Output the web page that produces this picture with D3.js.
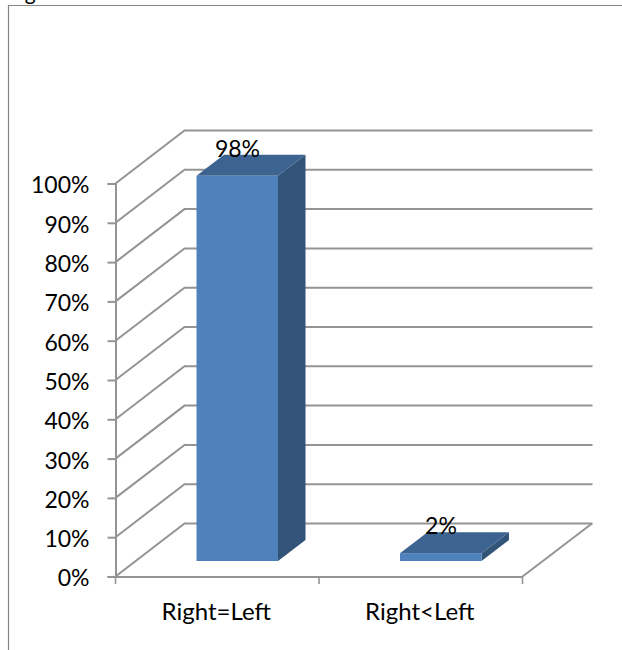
<!DOCTYPE html>
<html>

<head>
  <title>Right vs Left</title>
  <script type="text/javascript" src="https://cdn.jsdelivr.net/npm/d3@7"></script>
  <style>
    html, body { margin: 0; padding: 0; background: #fff; }
    svg { display: block; }
    text { font-family: Lato, "Open Sans", sans-serif; fill: #000; }
  </style>
</head>

<body>
  <script type="text/javascript">
    const categories = ["Right=Left", "Right<Left"];
    const percentages = [98, 2];
    const valueLabels = ["98%", "2%"];
    const tickValues = [0, 10, 20, 30, 40, 50, 60, 70, 80, 90, 100];
    const captionText = "Fig 1: Gender wise data";

    const w = 622;
    const h = 650;
    const fontSize = "23px";

    const svg = d3.select("body")
      .append("svg")
      .attr("width", w)
      .attr("height", h);

    // Skew of the 3D box: back wall offset from the front plane
    const depthX = 69;
    const depthY = -53;
    const barDepthX = 27.5;
    const barDepthY = -21;
    const floorX = 20;
    const floorY = -15.5;

    const yScale = d3.scaleLinear().domain([0, 100]).range([576.5, 183.5]);
    const xScale = d3.scaleBand().domain(categories).range([115.5, 522.5]);
    const barW = 81.5;
    const gridColor = "#949494";

    // Caption, cut off by the top of the page
    svg.append("text")
      .attr("x", 8)
      .attr("y", 0)
      .style("font-size", "21px")
      .style("word-spacing", "4px")
      .text(captionText);

    // Outer frame, open to the right and the bottom
    svg.append("path")
      .attr("d", "M8.5,650V5.5H622")
      .attr("fill", "none")
      .attr("stroke", "#858585")
      .attr("stroke-width", 1.2);

    const grid = svg.append("g")
      .attr("fill", "none")
      .attr("stroke", gridColor)
      .attr("stroke-width", 2);

    // Side wall and back wall lines
    grid.selectAll("path.wall")
      .data(tickValues)
      .enter()
      .append("path")
      .attr("class", "wall")
      .attr("d", function (d) {
        const y = yScale(d);
        return "M115.5," + y + "L" + (115.5 + depthX) + "," + (y + depthY) + "H" + 592.5;
      });

    // Floor edge on the right
    grid.append("path")
      .attr("d", "M522.5,576.5L" + (522.5 + depthX + 0.5) + "," + (576.5 + depthY));

    // Axes with outward ticks
    const xAxis = d3.axisBottom(xScale).tickSize(0).tickPadding(26);
    const xAxisG = svg.append("g")
      .attr("transform", "translate(0,576.5)")
      .call(xAxis);
    xAxisG.select(".domain").attr("stroke", gridColor).attr("stroke-width", 2);
    xAxisG.selectAll("text")
      .style("font-size", "24px")
      .attr("dx", "-1")
      .attr("fill", "#000");

    svg.append("g")
      .attr("stroke", gridColor)
      .attr("stroke-width", 1.6)
      .selectAll("line")
      .data([115.5, 319, 522.5])
      .enter()
      .append("line")
      .attr("x1", function (d) { return d; })
      .attr("x2", function (d) { return d; })
      .attr("y1", 576.5)
      .attr("y2", 584);

    const yAxis = d3.axisLeft(yScale)
      .tickValues(tickValues)
      .tickSize(8)
      .tickPadding(18)
      .tickFormat(function (d) { return d + "%"; });
    const yAxisG = svg.append("g")
      .attr("transform", "translate(115.5,0)")
      .call(yAxis);
    yAxisG.select(".domain").attr("stroke", gridColor).attr("stroke-width", 2);
    yAxisG.selectAll(".tick line").attr("stroke", gridColor).attr("stroke-width", 2);
    yAxisG.selectAll("text")
      .style("font-size", fontSize)
      .attr("dy", "0.41em")
      .attr("fill", "#000");

    // Bars: side, top, then front face
    const bars = svg.selectAll("g.bar")
      .data(percentages)
      .enter()
      .append("g")
      .attr("class", "bar");

    function barLeft(i) {
      return xScale(categories[i]) + (xScale.bandwidth() - barW) / 2 + floorX;
    }
    const zeroY = yScale(0) + floorY;
    function barTop(d) {
      return zeroY - (yScale(0) - yScale(d));
    }

    bars.append("path")
      .attr("fill", "#335479")
      .attr("d", function (d, i) {
        const x = barLeft(i) + barW;
        return "M" + x + "," + zeroY + "l" + barDepthX + "," + barDepthY +
          "V" + (barTop(d) + barDepthY) + "l" + (-barDepthX) + "," + (-barDepthY) + "Z";
      });

    bars.append("path")
      .attr("fill", "#3d6390")
      .attr("d", function (d, i) {
        const x = barLeft(i);
        const y = barTop(d);
        return "M" + x + "," + y + "l" + barDepthX + "," + barDepthY +
          "h" + barW + "l" + (-barDepthX) + "," + (-barDepthY) + "Z";
      });

    bars.append("rect")
      .attr("fill", "#4f81bd")
      .attr("x", function (d, i) { return barLeft(i); })
      .attr("y", barTop)
      .attr("width", barW)
      .attr("height", function (d) { return zeroY - barTop(d); });

    // Value labels sit over the top face
    bars.append("text")
      .attr("x", function (d, i) { return barLeft(i) + 41; })
      .attr("y", function (d) { return barTop(d) - 19; })
      .attr("text-anchor", "middle")
      .style("font-size", fontSize)
      .text(function (d, i) { return valueLabels[i]; });
  </script>
</body>

</html>
